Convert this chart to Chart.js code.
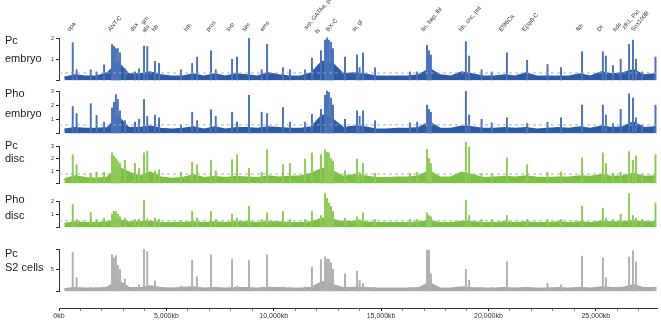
<!DOCTYPE html>
<html>
<head>
<meta charset="utf-8">
<script src="https://cdn.jsdelivr.net/npm/chart.js@4.4.1/dist/chart.umd.min.js"></script>
<style>
  body { margin: 0; background: #fff; }
  #wrap { position: relative; width: 661px; height: 320px; overflow: hidden; font-family: "Liberation Sans", Arial, sans-serif; }
  .panel { position: absolute; left: 0; }
  .lbl { position: absolute; left: 5px; font-size: 11px; color: #222; line-height: 12px; }
  .gene { position: absolute; font-size: 6px; line-height: 7px; color: #333; white-space: nowrap; transform-origin: 0 100%; transform: rotate(-50deg); }
</style>
</head>
<body>
<div id="wrap"></div>
<script>
// chromosome length shown on the axis (kb)
const chromEnd = 27850;

// baseline signal, one value per 500kb bin (bin centres 250, 750, ...)
const binKb = [];
for (let i = 0; i < 56; i++) binKb.push(250 + i * 500);

const pcEmbryoBase = [0.15,0.25,0.2,0.2,0.35,0.85,0.3,0.3,0.4,0.25,0.2,0.2,0.3,0.2,0.3,0.2,0.3,0.25,0.2,0.35,0.25,0.2,0.2,0.35,0.9,0.8,0.3,0.35,0.3,0.2,0.2,0.2,0.2,0.25,0.55,0.25,0.2,0.4,0.3,0.2,0.2,0.25,0.2,0.35,0.2,0.2,0.2,0.2,0.3,0.2,0.4,0.3,0.35,0.5,0.25,0.3];
const phoEmbryoBase = [0.3,0.4,0.35,0.35,0.4,1.2,0.4,0.4,0.5,0.35,0.3,0.35,0.45,0.3,0.45,0.3,0.4,0.4,0.35,0.45,0.4,0.35,0.35,0.45,1.3,1.0,0.4,0.5,0.45,0.3,0.3,0.35,0.35,0.4,0.8,0.35,0.35,0.5,0.45,0.35,0.35,0.4,0.35,0.4,0.3,0.35,0.4,0.35,0.45,0.35,0.5,0.4,0.45,0.8,0.4,0.45];
const pcDiscBase = [0.35,0.6,0.45,0.4,0.5,1.3,0.9,0.6,0.9,0.5,0.4,0.45,0.7,0.45,0.55,0.45,0.55,0.5,0.45,0.6,0.5,0.55,0.6,0.8,1.2,1.0,0.55,0.7,0.6,0.45,0.45,0.5,0.5,0.6,1.0,0.5,0.5,0.9,0.7,0.45,0.5,0.55,0.5,0.6,0.5,0.45,0.5,0.5,0.6,0.55,0.7,0.55,0.6,0.8,0.55,0.6];
const phoDiscBase = [0.3,0.4,0.35,0.35,0.4,0.6,0.4,0.4,0.45,0.35,0.35,0.35,0.4,0.35,0.4,0.35,0.4,0.4,0.35,0.4,0.4,0.35,0.35,0.4,0.7,0.6,0.4,0.45,0.4,0.35,0.35,0.35,0.35,0.4,0.5,0.35,0.35,0.45,0.4,0.35,0.35,0.4,0.35,0.4,0.35,0.35,0.4,0.35,0.4,0.35,0.45,0.4,0.4,0.5,0.4,0.4];
const pcS2Base = [0.6,0.8,0.7,0.7,0.9,2.5,0.9,0.8,1.2,0.8,0.7,0.9,1.0,0.7,0.8,0.7,0.8,0.8,0.7,0.9,0.8,0.7,0.7,0.9,2.2,1.5,0.8,0.9,0.9,0.7,0.7,0.7,0.7,0.8,2.0,0.7,0.7,1.0,0.8,0.7,0.7,0.8,0.7,0.8,0.7,0.7,0.8,0.7,0.9,0.7,1.0,0.8,0.9,1.5,0.8,0.8];

// peak positions (kb), shared by all tracks
const peakKb = [640,820,1480,1750,2100,2470,2560,2650,2740,2840,3070,3540,3730,3960,4110,4470,4660,5680,6200,6430,7080,7300,8060,8290,8850,9440,9690,10430,10760,11460,11780,12200,12390,12480,12570,12670,12760,13320,13880,14000,14160,14720,16350,16680,17140,17230,17320,18950,19100,19680,20150,20860,21800,22750,23380,24360,25330,25470,25800,26160,26550,26730,26870,27150,27780];

const pcEmbryoPeaks = [1.78,0.5,0.5,0.4,0.74,1.7,1.6,1.5,1.5,1.3,0.55,0.4,0.55,1.62,1.6,0.9,0.8,0.5,0.8,1.1,1.4,0.5,1.0,1.1,1.98,0.5,1.7,0.6,0.5,0.5,1.05,1.4,1.9,2.0,1.9,1.8,1.5,1.1,1.2,0.6,1.3,0.6,0.4,0.4,1.65,1.4,1.2,1.83,1.15,0.5,0.4,1.3,0.95,0.75,0.6,1.35,1.35,1.15,0.7,1.0,1.7,1.9,1.0,0.4,1.1];
const phoEmbryoPeaks = [1.9,1.4,2.1,1.27,0.8,1.8,2.2,2.75,2.4,1.6,0.9,0.8,1.0,2.4,1.2,1.3,1.1,0.6,1.5,0.9,1.67,1.2,1.5,0.8,2.7,1.5,1.4,1.83,0.8,0.8,1.35,1.7,2.7,3.0,2.9,2.5,2.0,1.0,1.6,1.2,1.6,0.9,0.75,0.8,2.0,1.7,1.5,2.97,1.3,1.0,0.75,1.1,0.7,0.8,1.1,2.0,2.0,1.3,0.7,1.7,2.8,2.5,1.1,0.6,2.0];
const pcDiscPeaks = [2.3,1.5,0.8,0.9,0.9,2.45,2.2,2.0,1.8,1.6,1.85,1.6,1.2,2.45,2.6,1.0,1.1,0.9,1.7,1.5,1.85,1.0,1.9,2.3,1.2,0.9,2.7,1.5,1.6,1.95,2.45,2.3,2.7,2.5,2.45,2.0,1.8,1.0,1.95,0.9,1.6,0.8,0.8,0.9,2.75,2.0,1.6,3.3,2.9,0.8,0.8,2.05,1.5,0.9,0.9,2.05,2.45,1.6,0.8,0.9,2.55,1.85,2.2,0.7,2.3];
const phoDiscPeaks = [1.73,0.6,1.13,0.6,0.7,1.0,1.2,1.2,1.0,0.8,0.7,0.6,0.6,2.07,0.65,0.7,0.6,0.5,1.2,0.7,1.2,0.6,1.0,0.7,1.6,0.6,1.1,1.2,0.6,0.6,1.2,0.9,2.6,2.2,1.85,1.6,1.2,0.7,0.8,0.6,1.1,0.6,0.6,0.6,1.1,0.9,0.8,2.07,0.9,0.6,0.6,0.9,0.6,0.6,0.6,1.6,1.45,0.7,0.6,1.0,2.55,0.9,0.7,0.6,1.85];
const pcS2Peaks = [8.8,3.1,0.9,0.8,1.0,8.3,7.6,8.1,5.9,5.0,2.8,0.9,1.5,9.5,9.0,2.4,1.0,1.2,7.1,3.3,8.3,1.0,7.2,1.2,7.0,1.0,8.3,1.0,0.9,1.0,5.5,7.2,7.8,7.3,7.3,6.5,5.0,4.0,4.6,2.5,1.8,0.9,0.9,0.9,9.4,9.3,4.0,5.0,2.5,0.9,0.9,6.7,0.9,1.8,1.5,8.0,7.6,3.1,0.9,1.0,7.8,9.2,6.7,0.8,1.0];

// dashed threshold level per track
const pcEmbryoCut = 0.35, phoEmbryoCut = 0.6, pcDiscCut = 0.75, phoDiscCut = 0.5;

// x axis tick labels
const axisTicks = [0, 5000, 10000, 15000, 20000, 25000];

// gene labels on top
const geneNames = ['opa','ANT-C','dsx','grn','ato','hb','hth','pros','svp','sim','ems','srp, GATAe, pnr','ls','BX-C','sr, gl','tin, bap, lbl','hh, cnc, pnt','Ef96Ca','E(spl)-C','fkh','Dr','hdc','zfh1, Pxt','Sox100B'];
const geneKb = [559,2468,3493,4005,4052,4517,6008,7032,7963,8709,9547,11596,12108,12620,13831,17045,18814,20677,21748,24263,25240,25985,26405,26824];

const wrap = document.getElementById('wrap');
const BLUE = '#2d5ba8', BLUE_PK = '#4a72b8';
const GREEN = '#7cc242', GREEN_PK = '#8ccb55';
const GREY = '#a9a9a9', GREY_PK = '#b0b0b0';

const panels = [
  { name: ['Pc', 'embryo'], lblY: [34, 52], top: 38, bottom: 84, max: 2, ticks: [0,1,2], base: pcEmbryoBase, peaks: pcEmbryoPeaks, cut: pcEmbryoCut, color: BLUE, pk: BLUE_PK },
  { name: ['Pho', 'embryo'], lblY: [87, 107], top: 91, bottom: 137, max: 3, ticks: [0,1,2,3], base: phoEmbryoBase, peaks: phoEmbryoPeaks, cut: phoEmbryoCut, color: BLUE, pk: BLUE_PK },
  { name: ['Pc', 'disc'], lblY: [139, 152], top: 146, bottom: 187, max: 3, ticks: [0,1,2,3], base: pcDiscBase, peaks: pcDiscPeaks, cut: pcDiscCut, color: GREEN, pk: GREEN_PK },
  { name: ['Pho', 'disc'], lblY: [193, 209], top: 201, bottom: 231, max: 2, ticks: [0,1,2], base: phoDiscBase, peaks: phoDiscPeaks, cut: phoDiscCut, color: GREEN, pk: GREEN_PK },
  { name: ['Pc', 'S2 cells'], lblY: [247, 261], top: 249, bottom: 295, max: 9.6, ticks: [0,5,9.6], base: pcS2Base, peaks: pcS2Peaks, cut: null, color: GREY, pk: GREY_PK }
];

function addCanvas(top, height) {
  const d = document.createElement('div');
  d.className = 'panel';
  d.style.top = top + 'px';
  const c = document.createElement('canvas');
  c.width = 661; c.height = height;
  d.appendChild(c);
  wrap.appendChild(d);
  return c;
}

const padTop = 8, padBottom = 2;
let firstChart = null;

panels.forEach(function (p) {
  const h = p.bottom - p.top + padTop + padBottom;
  const canvas = addCanvas(p.top - padTop, h);

  const datasets = [
    {
      type: 'bar',
      data: peakKb.map((x, i) => ({ x: x, y: p.peaks[i] })),
      backgroundColor: p.pk,
      barThickness: 1.3,
      grouped: false,
      order: 2,
      clip: false
    },
    {
      type: 'line',
      data: binKb.map((x, i) => ({ x: x, y: p.base[i] })),
      borderColor: p.color,
      borderWidth: 1.5,
      backgroundColor: p.color,
      fill: 'origin',
      pointRadius: 0,
      tension: 0,
      order: 3
    }
  ];
  if (p.cut !== null) {
    datasets.push({
      type: 'line',
      data: [{ x: 0, y: p.cut }, { x: chromEnd, y: p.cut }],
      borderColor: 'rgba(165,165,165,0.9)',
      borderWidth: 1,
      borderDash: [3, 3],
      pointRadius: 0,
      fill: false,
      order: 1
    });
  }

  const chart = new Chart(canvas, {
    type: 'bar',
    data: { datasets: datasets },
    options: {
      responsive: false,
      animation: false,
      layout: { padding: { left: 0, right: 4, top: padTop, bottom: padBottom } },
      plugins: { legend: { display: false }, tooltip: { enabled: false } },
      scales: {
        x: { type: 'linear', min: 0, max: chromEnd, offset: false, display: false },
        y: {
          min: 0, max: p.max,
          afterFit: function (s) { s.width = 59; },
          afterBuildTicks: function (s) { s.ticks = p.ticks.map(v => ({ value: v })); },
          ticks: {
            padding: 2,
            color: '#444',
            font: { family: 'Liberation Sans', size: 6 },
            callback: function (v) { return (v === 0 || v === 9.6) ? '' : v; }
          },
          grid: { drawOnChartArea: false, drawTicks: true, tickLength: 3, color: '#333' },
          border: { display: true, color: '#333', width: 1 }
        }
      }
    }
  });
  if (!firstChart) firstChart = chart;

  p.name.forEach(function (t, k) {
    const s = document.createElement('div');
    s.className = 'lbl';
    s.style.top = p.lblY[k] + 'px';
    s.textContent = t;
    wrap.appendChild(s);
  });
});

// bottom axis
const axisCanvas = addCanvas(296, 24);
new Chart(axisCanvas, {
  type: 'line',
  data: { datasets: [] },
  options: {
    responsive: false,
    animation: false,
    layout: { padding: { left: 59, right: 4, top: 0, bottom: 0 } },
    plugins: { legend: { display: false }, tooltip: { enabled: false } },
    scales: {
      y: { display: false },
      x: {
        type: 'linear', min: 0, max: chromEnd,
        afterBuildTicks: function (s) {
          const t = [];
          for (let v = 0; v <= 27000; v += 1000) t.push({ value: v });
          s.ticks = t;
        },
        ticks: {
          autoSkip: false, maxRotation: 0, padding: 1,
          color: '#333',
          font: { family: 'Liberation Sans', size: 7 },
          callback: function (v) { return axisTicks.includes(v) ? v.toLocaleString('en-US') + 'kb' : ''; }
        },
        grid: {
          drawOnChartArea: false, tickLength: 3,
          tickColor: function (c) { return axisTicks.includes(c.tick && c.tick.value) ? '#222' : '#888'; }
        },
        border: { display: true, color: '#333', width: 1 }
      }
    }
  }
});

// gene labels placed through the first track's x scale
const xs = firstChart.scales.x;
const raise = { 'grn': 7, 'ato': -1, 'ls': -2, 'srp, GATAe, pnr': 2, 'zfh1, Pxt': 2 };
geneNames.forEach(function (g, i) {
  const s = document.createElement('div');
  s.className = 'gene';
  s.textContent = g;
  const x = xs.getPixelForValue(geneKb[i]);
  const bottom = 33 - (raise[g] || 0);
  s.style.left = x + 'px';
  s.style.top = (bottom - 7) + 'px';
  wrap.appendChild(s);
});
</script>
</body>
</html>
